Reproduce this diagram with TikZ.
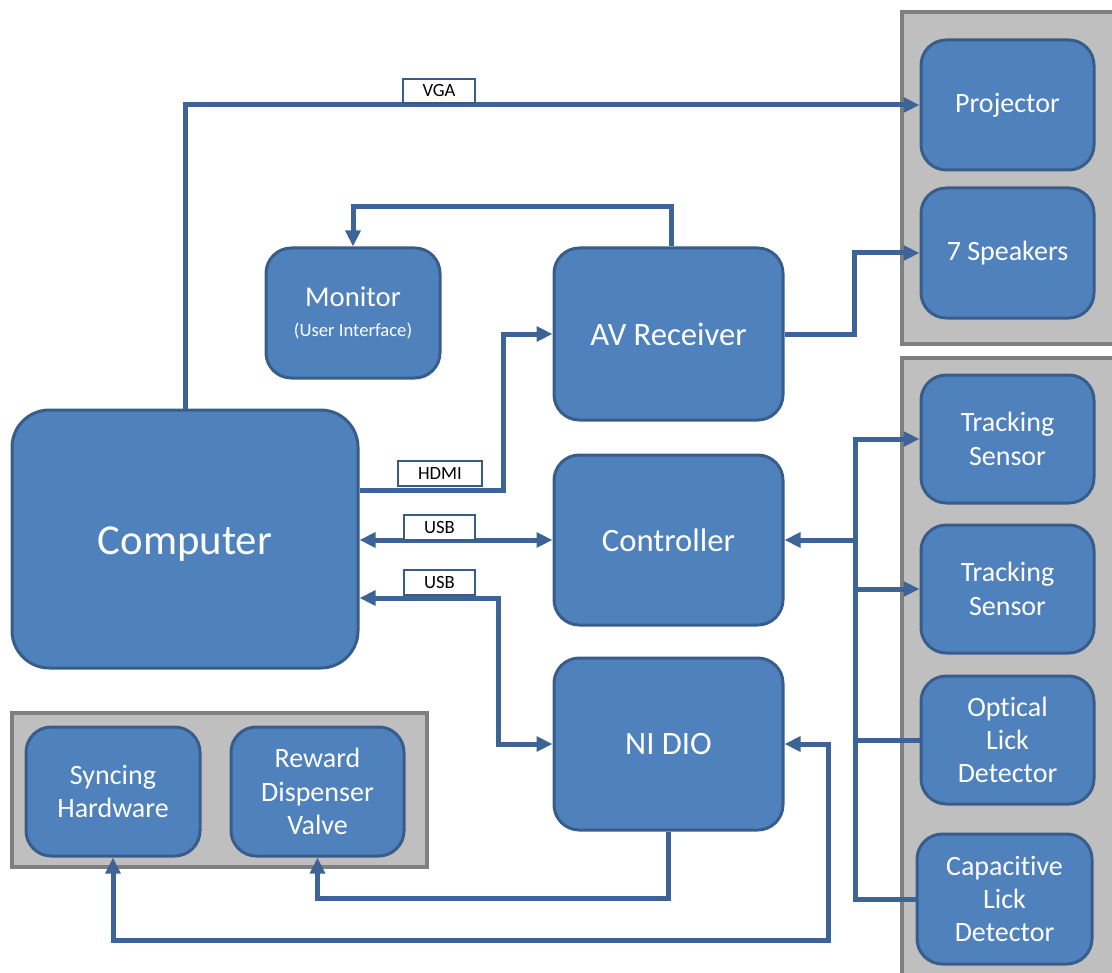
\documentclass[tikz,border=0pt]{standalone}
\usepackage{fontspec}
\setmainfont{Carlito}[Ligatures=NoCommon]
\usetikzlibrary{arrows.meta,calc}
\definecolor{blkfill}{HTML}{4F81BD}
\definecolor{blkline}{HTML}{385D8A}
\definecolor{conncol}{HTML}{3C6496}
\definecolor{grpfill}{HTML}{BFBFBF}
\definecolor{grpline}{HTML}{7F7F7F}
\begin{document}
\begin{tikzpicture}[x=0.75pt,y=-0.75pt,
 blk/.style={draw=blkline, fill=blkfill, line width=2.25pt, rounded corners=19pt, text=white, align=center, inner sep=2pt, font=\fontsize{21}{25}\selectfont},
 grp/.style={draw=grpline, fill=grpfill, line width=3pt},
 conn/.style={draw=conncol, line width=3.75pt, >={Triangle[length=12pt,width=11pt]}},
 lbl/.style={draw=blkline, fill=white, line width=0.9pt, inner sep=0pt, font=\fontsize{14}{16}\selectfont, text=black}]
\useasboundingbox (0,0) rectangle (1112,973);
\clip (0,0) rectangle (1112,973);
% groups
\draw[grp] (902,12) rectangle (1130,344);
\draw[grp] (902,358) rectangle (1130,995);
\draw[grp] (12,713) rectangle (427,867);
% nodes
\node[blk, minimum width=129.75pt, minimum height=97.5pt] (proj) at (1007.5,105) {Projector};
\node[blk, minimum width=129.75pt, minimum height=97.5pt] (spk) at (1007.5,253) {7 Speakers};
\node[blk, minimum width=129.75pt, minimum height=96pt] (trk1) at (1007.5,439) {Tracking\\Sensor};
\node[blk, minimum width=129.75pt, minimum height=96pt] (trk2) at (1007.5,589) {Tracking\\Sensor};
\node[blk, minimum width=129.75pt, minimum height=96pt] (opt) at (1007.5,740) {Optical\\Lick\\Detector};
\node[blk, minimum width=131.25pt, minimum height=97.5pt] (cap) at (1004.5,899) {Capacitive\\Lick\\Detector};
\node[blk, minimum width=130.5pt, minimum height=97.5pt, font=\fontsize{21.5}{25}\selectfont] (mon) at (353,313) {Monitor\\[-3pt]{\fontsize{14}{16}\selectfont(User Interface)}};
\node[blk, minimum width=171.75pt, minimum height=129pt, font=\fontsize{24.5}{29}\selectfont] (avr) at (668.5,334) {AV Receiver};
\node[blk, minimum width=171.75pt, minimum height=127.5pt, font=\fontsize{24.5}{29}\selectfont] (ctl) at (668.5,540) {Controller};
\node[blk, minimum width=171.75pt, minimum height=129pt, font=\fontsize{24.5}{29}\selectfont] (nidio) at (668.5,744) {NI DIO};
\node[blk, minimum width=259.5pt, minimum height=193.5pt, rounded corners=28pt, font=\fontsize{32}{38}\selectfont] (comp) at (185,539) {\raisebox{-3.5pt}[\height][\depth]{Computer}};
\node[blk, minimum width=130.5pt, minimum height=96.75pt] (sync) at (113,791.5) {Syncing\\Hardware};
\node[blk, minimum width=129.75pt, minimum height=96.75pt] (rew) at (317.5,791.5) {Reward\\Dispenser\\Valve};
% connectors
\draw[conn,->] (comp.north) |- (proj.west);
\draw[conn,->] ([xshift=2.6pt]avr.north) -- ++(0,-40) -| (mon.north);
\draw[conn,->] (avr.east) -- ++(70,0) |- (spk.west);
\draw[conn,->] ($(comp.east)+(0,-49)$) -- ++(144,0) |- (avr.west);
\draw[conn,<->] (comp.east |- ctl.west) -- (ctl.west);
\draw[conn,<->] ($(comp.east)+(0,59)$) -- ++(139,0) |- (nidio.west);
\coordinate (busx) at (855,0);
\draw[conn,->] (cap.west) -- (busx |- cap.west) -- (busx |- trk1.west) -- (trk1.west);
\draw[conn,->] (busx |- trk2.west) -- (trk2.west);
\draw[conn] (busx |- opt.west) -- (opt.west);
\draw[conn,->] (busx |- ctl.east) -- (ctl.east);
\draw[conn,<->] (nidio.east) -- ++(44,0) -- ++(0,196) -| (sync.south);
\draw[conn,->] (nidio.south) -- ++(0,67) -| (rew.south);
% labels
\node[lbl, minimum width=54pt, minimum height=18pt] (lvga) at (439,91) {VGA};
\node[lbl, minimum width=63pt, minimum height=18.75pt] (lhdmi) at (440,473.5) {HDMI};
\node[lbl, minimum width=53.25pt, minimum height=18.75pt] (lusb1) at (439.5,527.5) {USB};
\node[lbl, minimum width=53.25pt, minimum height=18.75pt] (lusb2) at (439.5,582.5) {USB};
\end{tikzpicture}
\end{document}
